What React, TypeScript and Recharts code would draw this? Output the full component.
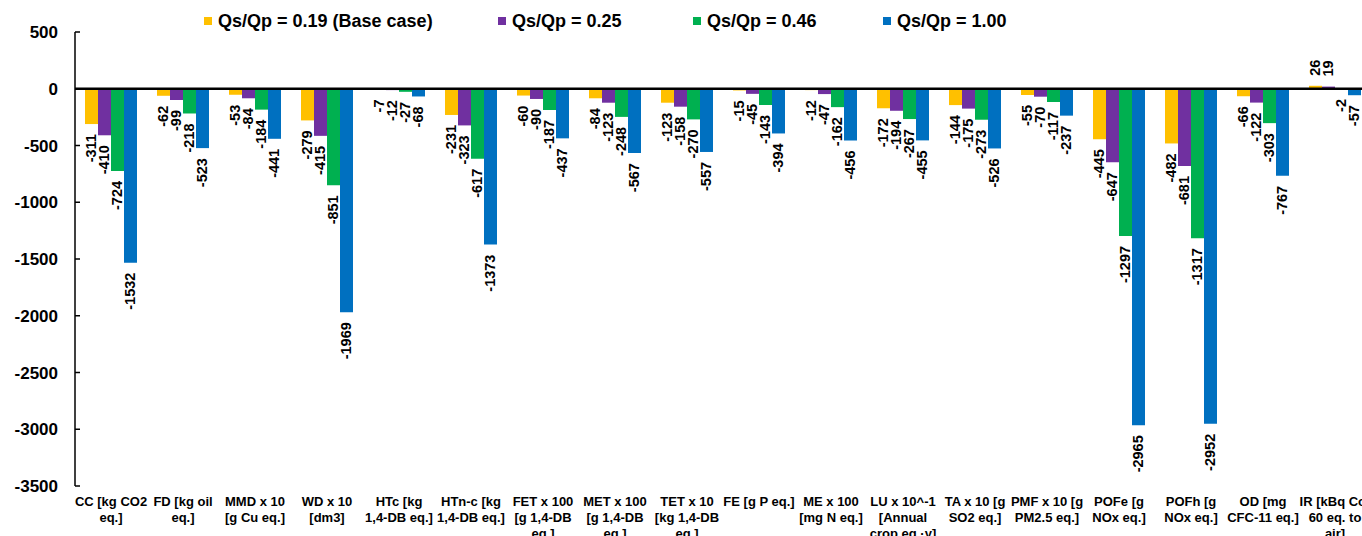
import React from 'react'
import {
  BarChart,
  Bar,
  XAxis,
  YAxis,
  Legend,
  LabelList,
  ReferenceLine,
} from 'recharts'

const categories = [
  'CC', 'FD', 'MMD', 'WD', 'HTc', 'HTn-c', 'FET', 'MET', 'TET',
  'FE', 'ME', 'LU', 'TA', 'PMF', 'POFe', 'POFh', 'OD', 'IR',
]

const tickLines = [
  ['CC [kg CO2', 'eq.]'],
  ['FD [kg oil', 'eq.]'],
  ['MMD x 10', '[g Cu eq.]'],
  ['WD x 10', '[dm3]'],
  ['HTc [kg', '1,4-DB eq.]'],
  ['HTn-c [kg', '1,4-DB eq.]'],
  ['FET x 100', '[g 1,4-DB', 'eq.]'],
  ['MET x 100', '[g 1,4-DB', 'eq.]'],
  ['TET x 10', '[kg 1,4-DB', 'eq.]'],
  ['FE [g P eq.]'],
  ['ME x 100', '[mg N eq.]'],
  ['LU x 10^-1', '[Annual', 'crop eq.·y]'],
  ['TA x 10 [g', 'SO2 eq.]'],
  ['PMF x 10 [g', 'PM2.5 eq.]'],
  ['POFe [g', 'NOx eq.]'],
  ['POFh [g', 'NOx eq.]'],
  ['OD [mg', 'CFC-11 eq.]'],
  ['IR [kBq Co-', '60 eq. to', 'air]'],
]

const q019 = [-311, -62, -53, -279, -7, -231, -60, -84, -123, -15, -12, -172, -144, -55, -445, -482, -66, 26]
const q025 = [-410, -99, -84, -415, -12, -323, -90, -123, -158, -45, -47, -194, -175, -70, -647, -681, -122, 19]
const q046 = [-724, -218, -184, -851, -27, -617, -187, -248, -270, -143, -162, -267, -273, -117, -1297, -1317, -303, -2]
const q100 = [-1532, -523, -441, -1969, -68, -1373, -437, -567, -557, -394, -456, -455, -526, -237, -2965, -2952, -767, -57]

const yTicks = [500, 0, -500, -1000, -1500, -2000, -2500, -3000, -3500]

const data = categories.map((cat, i) => ({
  cat,
  q019: q019[i],
  q025: q025[i],
  q046: q046[i],
  q100: q100[i],
}))

const FONT = '"Liberation Sans", Arial, sans-serif'
const legendSlots = [294, 195, 190, 130]

function BarValue(props: any) {
  const { x, y, width, height, value } = props
  if (value == null) return null
  const cx = x + width / 2
  const neg = value < 0
  const end = neg ? Math.max(y, y + height) : Math.min(y, y + height)
  const ly = neg ? end + 10 : end - 10
  return (
    <text
      x={cx}
      y={ly}
      transform={`rotate(-90 ${cx} ${ly})`}
      textAnchor={neg ? 'end' : 'start'}
      dominantBaseline="central"
      fontFamily={FONT}
      fontWeight="bold"
      fontSize={14.5}
      fill="#000"
    >
      {value}
    </text>
  )
}

function CategoryTick(props: any) {
  const { x, y, index } = props
  const lines = tickLines[index] || []
  return (
    <text
      x={x}
      y={y}
      textAnchor="middle"
      fontFamily={FONT}
      fontWeight="bold"
      fontSize={13}
      fill="#000"
    >
      {lines.map((l, i) => (
        <tspan key={i} x={x} dy={i === 0 ? 12 : 16}>
          {l}
        </tspan>
      ))}
    </text>
  )
}

function LegendContent(props: any) {
  const { payload } = props
  return (
    <div style={{ display: 'flex', fontFamily: FONT, fontWeight: 'bold', fontSize: 18, lineHeight: '20px' }}>
      {payload.map((entry: any, i: number) => (
        <div key={i} style={{ display: 'flex', alignItems: 'center', width: legendSlots[i], whiteSpace: 'nowrap' }}>
          <span style={{ display: 'inline-block', width: 8, height: 8, background: entry.color, marginRight: 6 }} />
          <span style={{ color: '#000' }}>{entry.value}</span>
        </div>
      ))}
    </div>
  )
}

export default function App() {
  return (
    <div style={{ position: 'absolute', left: 0, top: 0, width: 1362, height: 536, overflow: 'hidden', background: '#fff' }}>
      <BarChart
        width={1400}
        height={536}
        data={data}
        margin={{ top: 32, right: 29, left: 15, bottom: 0 }}
        barSize={13}
        barGap={0}
      >
        <XAxis
          dataKey="cat"
          axisLine={false}
          tickLine={false}
          interval={0}
          height={50}
          tick={<CategoryTick />}
        />
        <YAxis
          type="number"
          domain={[-3500, 500]}
          ticks={yTicks}
          width={60}
          interval={0}
          axisLine={{ stroke: '#000', strokeWidth: 1.5 }}
          tickLine={{ stroke: '#000', strokeWidth: 1.5 }}
          tickSize={-5}
          tickMargin={22}
          tick={{ fill: '#000', fontSize: 17, fontWeight: 'bold', fontFamily: FONT }}
        />
        <Legend
          layout="horizontal"
          verticalAlign="middle"
          align="center"
          content={<LegendContent />}
          wrapperStyle={{ top: 11, left: 204, width: 'auto' }}
        />
        <Bar dataKey="q019" name="Qs/Qp = 0.19 (Base case)" fill="#FFC000" isAnimationActive={false}>
          <LabelList dataKey="q019" content={<BarValue />} />
        </Bar>
        <Bar dataKey="q025" name="Qs/Qp = 0.25" fill="#7030A0" isAnimationActive={false}>
          <LabelList dataKey="q025" content={<BarValue />} />
        </Bar>
        <Bar dataKey="q046" name="Qs/Qp = 0.46" fill="#00B050" isAnimationActive={false}>
          <LabelList dataKey="q046" content={<BarValue />} />
        </Bar>
        <Bar dataKey="q100" name="Qs/Qp = 1.00" fill="#0070C0" isAnimationActive={false}>
          <LabelList dataKey="q100" content={<BarValue />} />
        </Bar>
        <ReferenceLine y={0} stroke="#000" strokeWidth={2.5} />
      </BarChart>
    </div>
  )
}
